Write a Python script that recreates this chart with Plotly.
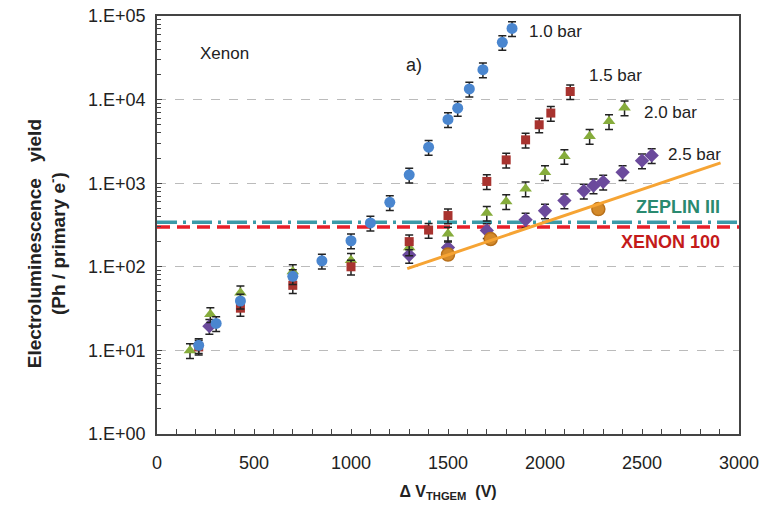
import plotly.graph_objects as go
import numpy as np

FONT = "Liberation Sans, Arial, sans-serif"

# ---- data ----
v_10 = [215, 305, 430, 700, 850, 1000, 1100, 1200, 1300, 1400, 1500, 1550, 1610, 1680, 1780, 1830]
y_10 = [11.5, 21, 39, 77, 118, 205, 335, 590, 1260, 2700, 5800, 7900, 13400, 22800, 48500, 71000]

v_15 = [215, 430, 700, 1000, 1300, 1400, 1500, 1700, 1800, 1900, 1970, 2030, 2130]
y_15 = [11, 32, 60, 100, 200, 275, 410, 1050, 1900, 3300, 5000, 6900, 12500]

v_20 = [170, 275, 430, 700, 1000, 1300, 1500, 1700, 1800, 1900, 2000, 2100, 2230, 2330, 2410]
y_20 = [10, 27, 49, 88, 120, 170, 248, 440, 605, 860, 1350, 2100, 3650, 5500, 8000]

v_25 = [270, 1300, 1500, 1700, 1900, 2000, 2100, 2200, 2250, 2300, 2400, 2500, 2550]
y_25 = [19.5, 138, 170, 272, 365, 468, 620, 810, 935, 1040, 1350, 1860, 2150]

v_or = [1500, 1720, 2275]
y_or = [140, 215, 490]

v_fit = [1290, 2905]
y_fit = [95, 1750]

zeplin_level = 340
xenon100_level = 300
x_span = [0, 3000]

ytick_vals = [1, 10, 100, 1000, 10000, 100000]
ytick_text = ["1.E+00", "1.E+01", "1.E+02", "1.E+03", "1.E+04", "1.E+05"]
xtick_vals = [0, 500, 1000, 1500, 2000, 2500, 3000]

err_pct = 20

fig = go.Figure()

# reference lines
fig.add_trace(go.Scatter(x=x_span, y=[zeplin_level] * 2, mode="lines",
                         line=dict(color="#3a9aa8", width=3.5, dash="20px,6px,3px,6px"),
                         showlegend=False, hoverinfo="skip"))
fig.add_trace(go.Scatter(x=x_span, y=[xenon100_level] * 2, mode="lines",
                         line=dict(color="#e8202a", width=3.5, dash="13px,7px"),
                         showlegend=False, hoverinfo="skip"))

def err():
    return dict(type="percent", value=err_pct, color="#222", thickness=1.5, width=4)

series = [
    (v_25, y_25, "diamond", 11, "#6b4a9c"),
    (v_20, y_20, "triangle-up", 11, "#86ac3c"),
    (v_15, y_15, "square", 9, "#a8332f"),
    (v_10, y_10, "circle", 11, "#4a86cf"),
]
for xs, ys, sym, sz, col in series:
    fig.add_trace(go.Scatter(x=xs, y=ys, mode="markers",
                             marker=dict(symbol=sym, size=sz, color=col, line=dict(width=0)),
                             error_y=err(), showlegend=False))

fig.add_trace(go.Scatter(x=v_or, y=y_or, mode="markers",
                         marker=dict(symbol="circle", size=13, color="#d48a2a",
                                     line=dict(color="#b8701a", width=1.5)),
                         showlegend=False))
fig.add_trace(go.Scatter(x=v_fit, y=y_fit, mode="lines",
                         line=dict(color="#f6a434", width=3), showlegend=False))

minor_y = [m * 10 ** d for d in range(0, 5) for m in range(2, 10)]

fig.update_layout(
    width=763, height=507,
    margin=dict(l=157, r=24, t=16, b=73),
    paper_bgcolor="white", plot_bgcolor="white",
    font=dict(family=FONT, size=18, color="#222"),
    xaxis=dict(range=[0, 3000], tickvals=xtick_vals, ticks="inside", ticklen=5,
               tickcolor="#444", showline=True, linecolor="#444", linewidth=1.5,
               mirror=True, showgrid=False, zeroline=False, automargin=False,
               minor=dict(dtick=100, ticks="inside", ticklen=5, tickcolor="#444"),
               ticklabelstandoff=12,
               title=dict(text="<b>Δ V<sub>THGEM</sub>  (V)</b>", font=dict(size=16), standoff=13)),
    yaxis=dict(type="log", range=[0, 5], tickmode="array", tickvals=ytick_vals,
               ticktext=ytick_text, ticks="inside", ticklen=5, tickcolor="#444",
               showline=True, linecolor="#444", linewidth=1.5, mirror=True,
               showgrid=True, gridcolor="#bbbbbb", griddash="dash", gridwidth=1,
               zeroline=False, ticklabelstandoff=6, automargin=False,
               minor=dict(tickmode="array", tickvals=minor_y, ticks="inside",
                          ticklen=4, tickcolor="#444", showgrid=False)),
)

def ann(text, x, ylog, anchor="left", size=18, color="#222", bold=False):
    t = f"<b>{text}</b>" if bold else text
    fig.add_annotation(x=x, y=ylog, xref="x", yref="y", text=t, showarrow=False,
                       xanchor=anchor, yanchor="middle",
                       font=dict(size=size, color=color, family=FONT))

ann("Xenon", 211, 4.55, size=17)
ann("a)", 1271, 4.41, size=18)
ann("1.0 bar", 1909, 4.81, size=17)
ann("1.5 bar", 2218, 4.29, size=17)
ann("2.0 bar", 2501, 3.84, size=17)
ann("2.5 bar", 2624, 3.34, size=17)
ann("ZEPLIN III", 2913, 2.72, anchor="right", size=18, color="#2a8a70", bold=True)
ann("XENON 100", 2913, 2.30, anchor="right", size=18, color="#c41a1a", bold=True)

fig.add_annotation(x=-0.19, y=0.455, xref="paper", yref="paper",
                   text="<b>Electroluminescence   yield<br>(Ph / primary e<sup>-</sup>)</b>",
                   textangle=-90, showarrow=False, xanchor="center", yanchor="middle",
                   font=dict(size=19, color="#222", family=FONT))

fig.write_html("out.html")
